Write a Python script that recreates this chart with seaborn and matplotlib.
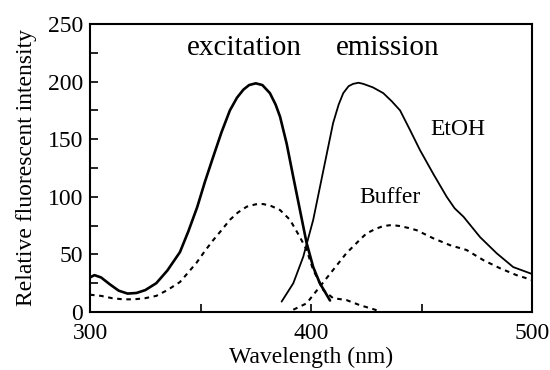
import matplotlib
matplotlib.use("Agg")
import matplotlib.pyplot as plt
from matplotlib.ticker import MultipleLocator
import seaborn as sns

sns.set_theme(style="white")
plt.rcParams['font.family'] = ['Liberation Serif', 'DejaVu Serif']

# Excitation, EtOH (solid)
ex_etoh_x = [300, 302, 305, 309, 313, 317, 321, 325, 330, 335, 340.7, 344.5, 348.5, 352, 355.8, 359.5,
             363.3, 366.5, 369.4, 372, 375, 378, 381.4, 384, 386, 389, 392, 395, 398, 401, 404, 408.6]
ex_etoh_y = [30, 32, 30, 24, 18.5, 16, 16.5, 19, 25, 36, 52, 70, 91, 113, 135, 156,
             175, 186, 193, 197, 198.5, 197, 190, 180, 169.5, 146, 117, 88.5, 60, 39, 25, 10]
# Excitation, Buffer (dashed)
ex_buf_x = [300, 305, 310, 315, 320, 325, 330, 335, 340.7, 344.3, 348.3, 352, 355.8, 359.5, 363.3, 367,
            370.9, 375, 378.4, 382, 386, 390.5, 395, 398, 401, 405.6, 410, 416, 422, 429, 431]
ex_buf_y = [15, 14, 12, 11, 11, 12, 14, 19, 26, 34, 43, 53, 62.5, 71, 80, 86.5,
            91.4, 93.5, 93.7, 92, 88.5, 80, 65, 54, 36.5, 19, 12, 10.4, 6, 2, 0]
# Emission, EtOH (solid)
em_etoh_x = [386.7, 392, 396.5, 401, 405.6, 410, 412.5, 414.6, 417, 419, 421.5, 423.7, 428, 432.7, 436.5, 440.3,
             444.8, 449.3, 455.3, 461.4, 465, 469, 476.5, 484, 491.5, 500]
em_etoh_y = [9, 25, 48, 80, 123, 164, 180, 190, 196, 198, 199, 198, 195, 190, 183, 175,
             158, 140.6, 120, 100, 90, 82.7, 65, 51, 39, 33]
# Emission, Buffer (dashed)
em_buf_x = [392, 398, 404, 410, 416, 422, 425, 429, 432.7, 436.5, 440.3, 444, 447.8, 455.3, 462.9,
            470.4, 478, 485.5, 493, 500]
em_buf_y = [2, 7.5, 22, 36.5, 51, 62.5, 68, 72, 74.6, 75.5, 74.6, 73, 71, 64, 58,
            53.8, 45, 38, 32, 27.8]

fig, ax = plt.subplots(figsize=(5.5, 3.7), dpi=100)
fig.subplots_adjust(left=90/550, right=532/550, bottom=1-312/370, top=1-24/370)

sns.lineplot(x=ex_etoh_x, y=ex_etoh_y, ax=ax, color="black", lw=1.9, sort=False)
sns.lineplot(x=em_etoh_x, y=em_etoh_y, ax=ax, color="black", lw=1.3, sort=False)
sns.lineplot(x=ex_buf_x, y=ex_buf_y, ax=ax, color="black", lw=1.5, sort=False, linestyle=(0, (2.2, 2.2)))
sns.lineplot(x=em_buf_x, y=em_buf_y, ax=ax, color="black", lw=1.5, sort=False, linestyle=(0, (2.2, 2.2)))

ax.set_xlim(300, 500)
ax.set_ylim(0, 250)
ax.xaxis.set_major_locator(MultipleLocator(100))
ax.xaxis.set_minor_locator(MultipleLocator(50))
ax.yaxis.set_major_locator(MultipleLocator(50))
ax.yaxis.set_minor_locator(MultipleLocator(25))
ax.tick_params(axis="both", which="both", direction="in", bottom=True, left=True,
               top=False, right=False, color="black")
ax.tick_params(axis="both", which="major", length=6, width=1.2, labelsize=17, labelcolor="black")
ax.tick_params(axis="both", which="minor", length=6, width=1.2)
ax.tick_params(axis="x", which="major", pad=8)
ax.tick_params(axis="y", which="major", pad=5)
for s in ax.spines.values():
    s.set_color("black")
    s.set_linewidth(1.5)

ax.set_xlabel("Wavelength (nm)", fontsize=17, color="black", labelpad=2)
ax.set_ylabel("Relative fluorescent intensity", fontsize=17, color="black", labelpad=8)

ax.text(370, 229, "excitation", fontsize=21, ha="center", va="center", color="black")
ax.text(434.8, 229, "emission", fontsize=21, ha="center", va="center", color="black")
ax.text(466.5, 158, "EtOH", fontsize=17, ha="center", va="center", color="black")
ax.text(435.7, 99, "Buffer", fontsize=17, ha="center", va="center", color="black")

fig.savefig("out.png", dpi=100)
